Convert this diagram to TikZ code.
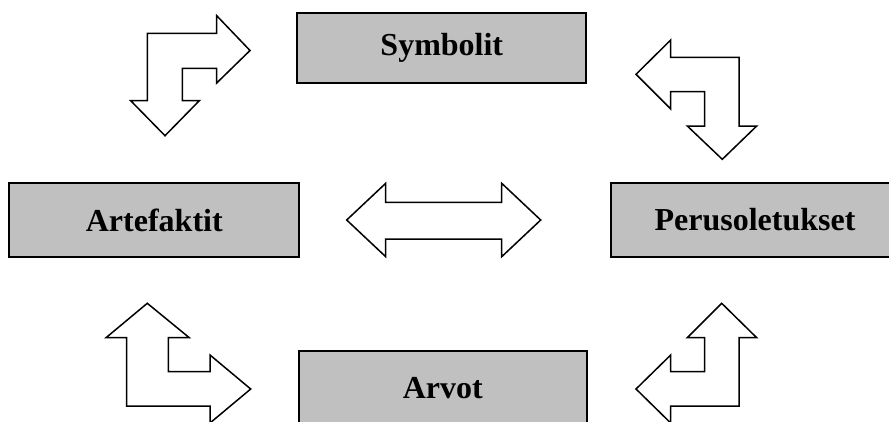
\documentclass[tikz,border=0pt]{standalone}
\usepackage{fontspec}
\setmainfont{Liberation Serif}
\begin{document}
\begin{tikzpicture}[x=1pt,y=-1pt,
  box/.style={draw=black, line width=2pt, fill=boxgray, inner sep=0pt,
    font=\bfseries\fontsize{32}{38}\selectfont},
  blockarrow/.style={draw=black, line width=1.5pt, fill=white, line join=miter}]
\definecolor{boxgray}{RGB}{192,192,192}
\useasboundingbox (0,0) rectangle (889,421);
\clip (0,0) rectangle (889,421);

% concept boxes
\node[box, minimum width=289pt, minimum height=70.6pt] (sym) at (441.8,48) {Symbolit};
\node[box, minimum width=290pt, minimum height=73.4pt] (art) at (154.3,220) {Artefaktit};
\node[box, minimum width=288pt, minimum height=73.4pt] (per) at (755,220) {Perusoletukset};
\node[box, minimum width=287.7pt, minimum height=73.4pt] (arv) at (442.8,388) {Arvot};

% bent arrow, top left
\draw[blockarrow] (147.3,33.3) -- (216.7,33.3) -- (216.7,15.7) -- (250,50.5)
  -- (216.7,83) -- (216.7,68.3) -- (182.3,68.3) -- (182.3,100.7) -- (199.3,100.7)
  -- (165,135.7) -- (130.7,100.7) -- (147.3,100.7) -- cycle;

% bent arrow, top right
\draw[blockarrow] (670.7,40) -- (670.7,57.3) -- (739,57.3) -- (739,126)
  -- (756.7,126) -- (722.3,159.3) -- (687.3,126) -- (704.7,126) -- (704.7,91.7)
  -- (670.7,91.7) -- (670.7,109) -- (636,74.3) -- cycle;

% bent arrow, bottom left
\draw[blockarrow] (147.3,303.3) -- (189.3,337.7) -- (168.3,337.7) -- (168.3,371.7)
  -- (210,371.7) -- (210,355) -- (250.7,389) -- (210,423) -- (210,406)
  -- (126.7,406) -- (126.7,337.7) -- (106,337.7) -- cycle;

% bent arrow, bottom right
\draw[blockarrow] (721.7,303.3) -- (756.7,337.7) -- (739,337.7) -- (739,406)
  -- (670.7,406) -- (670.7,423) -- (636,389) -- (670.7,355) -- (670.7,371.7)
  -- (704.7,371.7) -- (704.7,337.7) -- (687.3,337.7) -- cycle;

% double arrow in the middle
\draw[blockarrow] (346.7,220) -- (385.7,183.3) -- (385.7,202.3) -- (501.7,202.3)
  -- (501.7,183.3) -- (540.7,220) -- (501.7,256.7) -- (501.7,239) -- (385.7,239)
  -- (385.7,256.7) -- cycle;
\end{tikzpicture}
\end{document}
